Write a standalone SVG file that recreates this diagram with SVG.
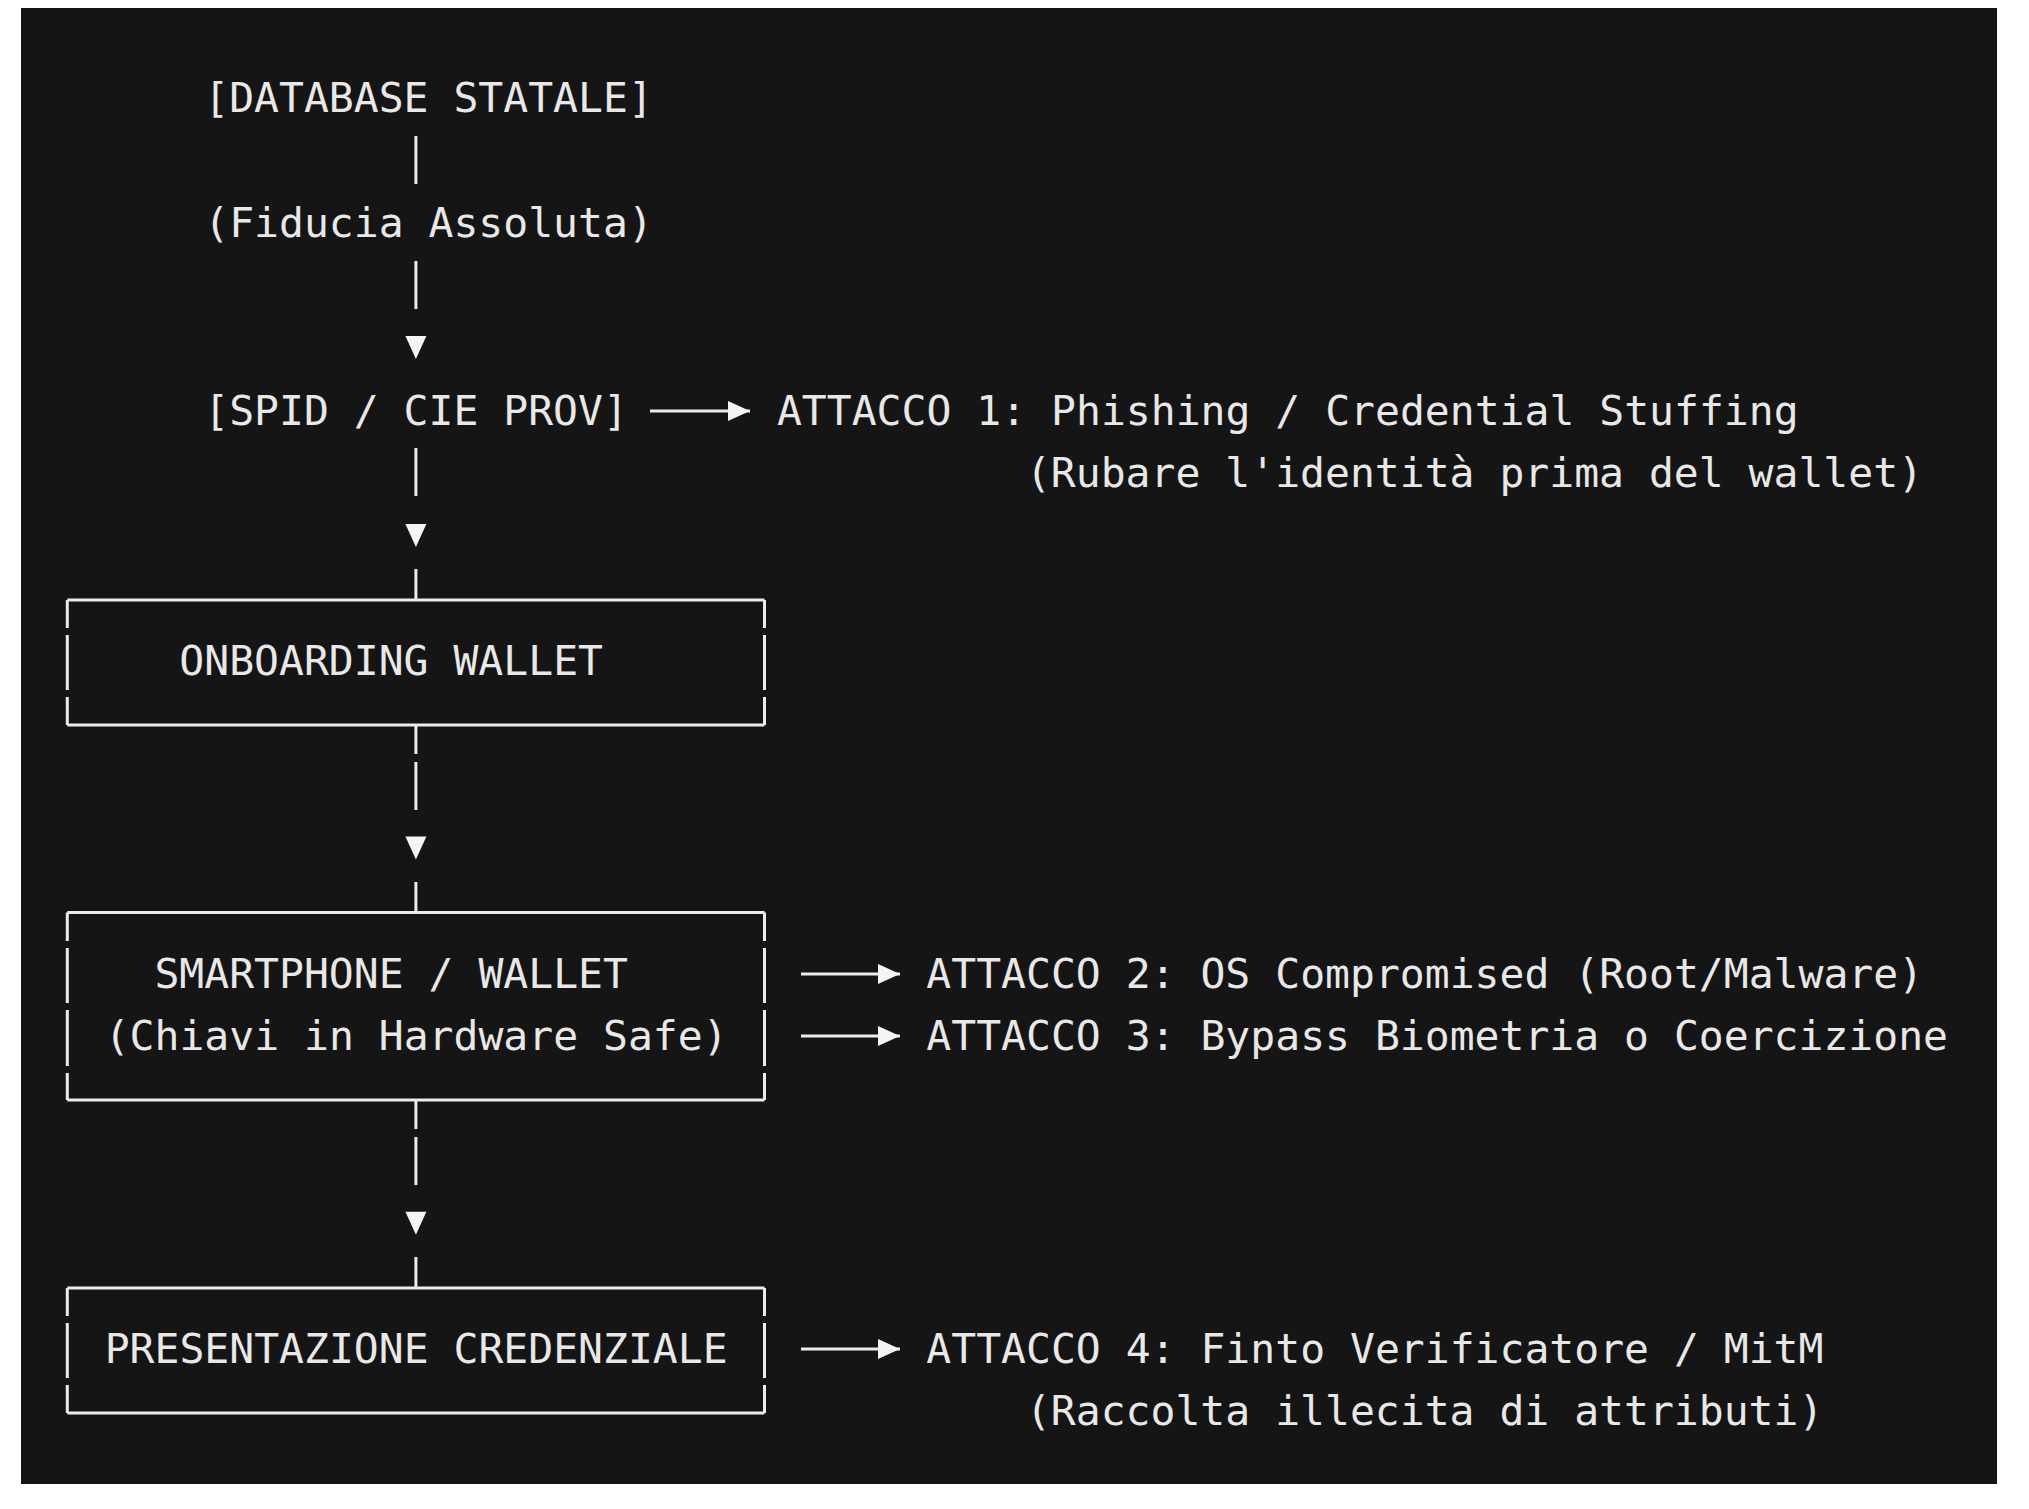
<svg xmlns="http://www.w3.org/2000/svg" width="2029" height="1509" viewBox="0 0 2029 1509">
  <style>
    .t { font-family: "DejaVu Sans Mono", "Liberation Mono", monospace; font-size: 41.4px; fill: #e8e8e8; white-space: pre; }
    .ln { stroke: #ececec; stroke-width: 3; fill: none; stroke-linecap: butt; }
    .head { fill: #f4f4f4; }
  </style>
  <defs>
    <marker id="arrowR" markerWidth="22" markerHeight="20" refX="22" refY="10" orient="auto" markerUnits="userSpaceOnUse" viewBox="0 0 22 20">
      <path d="M0,0 L22,10 L0,20 Z" fill="#f4f4f4"/>
    </marker>
    <path id="tri" d="M-10.5,-11 L10.5,-11 L0,12 Z"/>
  </defs>

  <!-- page and terminal panel -->
  <rect x="0" y="0" width="2029" height="1509" fill="#ffffff"/>
  <rect x="21" y="8" width="1976" height="1476" fill="#151515"/>

  <!-- vertical flow and attack arrows -->
  <g id="connectors">
    <line class="ln" x1="415.9" y1="136" x2="415.9" y2="184"/>
    <line class="ln" x1="415.9" y1="261" x2="415.9" y2="309"/>
    <use href="#tri" class="head" x="415.9" y="347"/>
    <line class="ln" x1="415.9" y1="448" x2="415.9" y2="496"/>
    <use href="#tri" class="head" x="415.9" y="535"/>
    <line class="ln" x1="415.9" y1="569" x2="415.9" y2="600"/>

    <line class="ln" x1="415.9" y1="725" x2="415.9" y2="754"/>
    <line class="ln" x1="415.9" y1="762" x2="415.9" y2="810"/>
    <use href="#tri" class="head" x="415.9" y="847.5"/>
    <line class="ln" x1="415.9" y1="882" x2="415.9" y2="912.5"/>

    <line class="ln" x1="415.9" y1="1100" x2="415.9" y2="1129"/>
    <line class="ln" x1="415.9" y1="1137" x2="415.9" y2="1185"/>
    <use href="#tri" class="head" x="415.9" y="1222.7"/>
    <line class="ln" x1="415.9" y1="1257" x2="415.9" y2="1288"/>

    <line class="ln" x1="650" y1="411" x2="750" y2="411" marker-end="url(#arrowR)"/>
    <line class="ln" x1="801" y1="974" x2="900" y2="974" marker-end="url(#arrowR)"/>
    <line class="ln" x1="801" y1="1036" x2="900" y2="1036" marker-end="url(#arrowR)"/>
    <line class="ln" x1="801" y1="1349" x2="900" y2="1349" marker-end="url(#arrowR)"/>
  </g>

  <g id="database-statale">
    <text class="t" x="204.25" y="112">[DATABASE STATALE]</text>
  </g>
  <g id="fiducia-assoluta">
    <text class="t" x="204.25" y="237">(Fiducia Assoluta)</text>
  </g>
  <g id="spid-cie">
    <text class="t" x="204.25" y="425">[SPID / CIE PROV]</text>
  </g>

  <g id="onboarding-wallet">
    <path class="ln" d="M67.3,600 H764.5 M67.3,725 H764.5
      M67.3,600 V628 M67.3,635 V690 M67.3,697 V725
      M764.5,600 V628 M764.5,635 V690 M764.5,697 V725"/>
    <text class="t" x="179.35" y="675">ONBOARDING WALLET</text>
  </g>

  <g id="smartphone-wallet">
    <path class="ln" d="M67.3,912.5 H764.5 M67.3,1100 H764.5
      M67.3,912.5 V941 M67.3,948 V1003 M67.3,1010 V1066 M67.3,1073 V1100
      M764.5,912.5 V941 M764.5,948 V1003 M764.5,1010 V1066 M764.5,1073 V1100"/>
    <text class="t" x="154.45" y="988">SMARTPHONE / WALLET</text>
    <text class="t" x="104.65" y="1050">(Chiavi in Hardware Safe)</text>
  </g>

  <g id="presentazione-credenziale">
    <path class="ln" d="M67.3,1288 H764.5 M67.3,1413 H764.5
      M67.3,1288 V1316 M67.3,1323 V1378 M67.3,1385 V1413
      M764.5,1288 V1316 M764.5,1323 V1378 M764.5,1385 V1413"/>
    <text class="t" x="104.65" y="1363">PRESENTAZIONE CREDENZIALE</text>
  </g>

  <g id="attacco-1">
    <text class="t" x="776.95" y="425">ATTACCO 1: Phishing / Credential Stuffing</text>
    <text class="t" x="1025.95" y="487">(Rubare l'identità prima del wallet)</text>
  </g>
  <g id="attacco-2">
    <text class="t" x="926.35" y="988">ATTACCO 2: OS Compromised (Root/Malware)</text>
  </g>
  <g id="attacco-3">
    <text class="t" x="926.35" y="1050">ATTACCO 3: Bypass Biometria o Coercizione</text>
  </g>
  <g id="attacco-4">
    <text class="t" x="926.35" y="1363">ATTACCO 4: Finto Verificatore / MitM</text>
    <text class="t" x="1025.95" y="1425">(Raccolta illecita di attributi)</text>
  </g>
</svg>
